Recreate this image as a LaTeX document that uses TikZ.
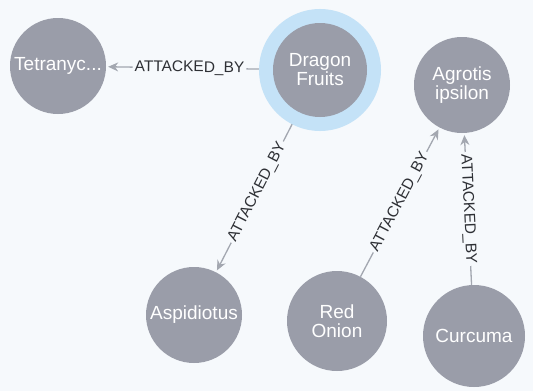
\documentclass[tikz,border=0pt]{standalone}
\usepackage{fontspec}
\setmainfont{Liberation Sans}
\usetikzlibrary{arrows.meta,backgrounds}

\definecolor{bgcol}{HTML}{F6F9FC}
\definecolor{nodegray}{HTML}{9A9DA9}
\definecolor{edgegray}{HTML}{A3A7B0}
\definecolor{halo}{HTML}{C4E2F7}
\definecolor{labelink}{HTML}{2E3035}

\tikzset{
  entity/.style={circle, fill=nodegray, text=white, minimum size=96pt,
    inner sep=0pt, align=center, font=\fontsize{19}{19}\selectfont},
  selected/.style={preaction={draw=halo, line width=28pt}},
  rel/.style={draw=edgegray, line width=1.3pt,
    -{Stealth[length=10pt,width=9pt]}, shorten >=2pt},
  rellabel/.style={fill=bgcol, text=labelink, inner sep=2pt, sloped,
    font=\fontsize{15.5}{15.5}\selectfont}
}

\begin{document}
\begin{tikzpicture}[x=1pt, y=-1pt]
  \useasboundingbox (0,0) rectangle (533,391);

  % entities
  \node[entity] (tetra) at (58,66) {Tetranyc...};
  \node[entity, selected, minimum size=94pt] (dragon) at (320,70) {Dragon\\Fruits};
  \node[entity] (agrotis) at (462,85) {Agrotis\\ipsilon};
  \node[entity] (aspid) at (194,315) {Aspidiotus};
  \node[entity, minimum size=100pt] (onion) at (337,321) {Red\\Onion};
  \node[entity, minimum size=102pt] (curcuma) at (474,336) {Curcuma};

  % relations, behind the entities
  \begin{pgfonlayer}{background}
    \fill[bgcol] (0,0) rectangle (533,391);
    \draw[rel] (dragon)  -- node[rellabel] {ATTACKED\_BY} (tetra);
    \draw[rel] (dragon)  -- node[rellabel] {ATTACKED\_BY} (aspid);
    \draw[rel] (onion)   -- node[rellabel] {ATTACKED\_BY} (agrotis);
    \draw[rel] (curcuma) -- node[rellabel] {ATTACKED\_BY} (agrotis);
  \end{pgfonlayer}
\end{tikzpicture}
\end{document}
